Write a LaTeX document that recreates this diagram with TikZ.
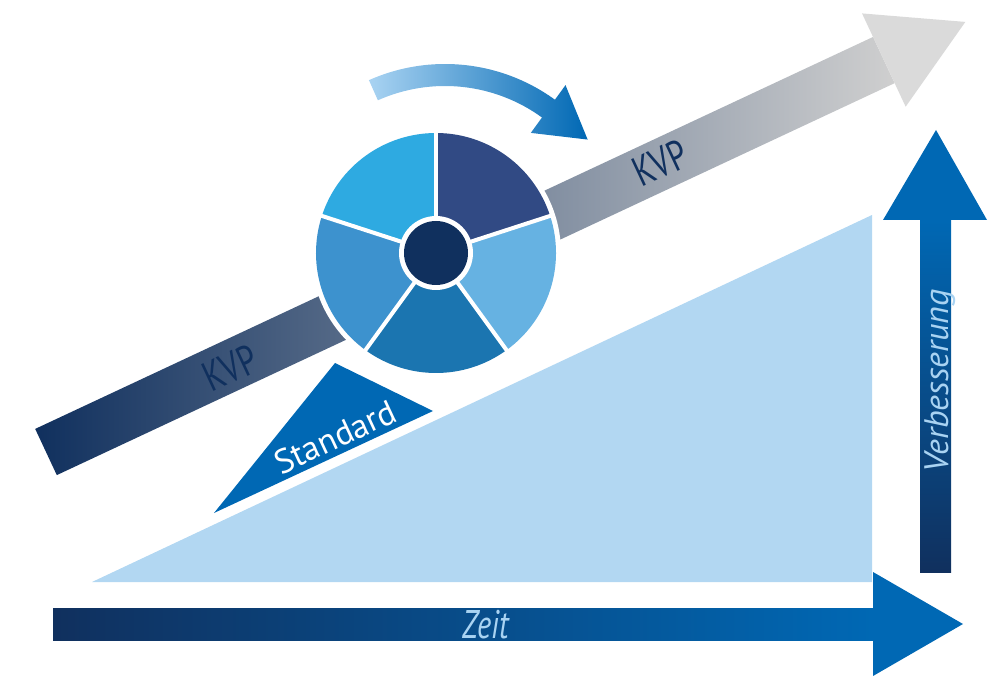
\documentclass[tikz,border=0pt]{standalone}
\usepackage{fontspec}
\setmainfont{PT Sans}
\newfontfamily\narrowfont[FakeStretch=0.76]{PT Sans}
\definecolor{navy}{HTML}{10305E}
\definecolor{midblue}{HTML}{0068B4}
\definecolor{paleblue}{HTML}{B2D7F2}
\definecolor{textblue}{HTML}{A9D3F2}
\definecolor{greyend}{HTML}{DADADA}
\definecolor{segA}{HTML}{2EAAE1}
\definecolor{segB}{HTML}{314A84}
\definecolor{segC}{HTML}{66B2E2}
\definecolor{segD}{HTML}{1B75B0}
\definecolor{segE}{HTML}{3D92CE}

\begin{document}
\begin{tikzpicture}
        [x=1pt,y=1pt,
         lbl/.style={text=textblue, inner sep=0pt, anchor=base},
         kvp/.style={font=\narrowfont\fontsize{42}{42}\selectfont, text=navy, inner sep=0pt, rotate=25}]
        \useasboundingbox (0,0) rectangle (995,675);

        % Zeit
        \shade[left color=navy, right color=midblue] (53,35) rectangle (873,67);
        \fill[midblue] (873,103) -- (963,51) -- (873,-1) -- cycle;
        \node[lbl, font=\narrowfont\fontsize{40}{40}\selectfont\itshape] (zeit) at (486,37) {Zeit};

        % Verbesserung
        \shade[bottom color=navy, top color=midblue] (920,103) rectangle (951,455);
        \fill[midblue] (883,455) -- (936,545) -- (987,455) -- cycle;
        \node[lbl, font=\fontsize{34}{34}\selectfont\itshape, rotate=90] (verb) at (948,294) {Verbesserung};

        % Dreiecke
        \fill[paleblue] (92,93) -- (872,93) -- (872,460) -- cycle;
        \fill[midblue] (214,162) -- (433,264) -- (335,312) -- cycle;
        \node[font=\fontsize{34}{34}\selectfont, text=white, inner sep=0pt, rotate=25] (std) at (335,238) {Standard};

        % KVP
        \begin{scope}[shift={(46,223)}, rotate=25.07]
          \shade[left color=navy, right color=greyend!95!black] (0,-25.5) rectangle (925,25.5);
          \fill[greyend] (925,-51.5) -- (1015,0) -- (925,51.5) -- cycle;
        \end{scope}
        \node[kvp] (kvpA) at (230,307) {KVP};
        \node[kvp] (kvpB) at (660,512) {KVP};

        % Rad
        \coordinate (pie) at (436,422);
        \fill[white] (pie) circle[radius=125];
        \foreach \a/\c in {90/segA,18/segB,-54/segC,-126/segD,162/segE}
        {\fill[\c] (pie) -- ++(\a:120) arc[start angle=\a, delta angle=72, radius=120] -- cycle;}
        \foreach \a in {18,90,162,234,306}
        {\draw[white, line width=4] (pie) -- ++(\a:121);}
        \fill[white] (pie) circle[radius=37];
        \fill[navy] (pie) circle[radius=32];

        % Pfeil oben
        \begin{scope}[shift={(445,424)}]
          \shade[left color=textblue, right color=midblue]
            (114:187) arc[start angle=114, end angle=54, radius=187] -- (54:205) -- (38:181)
            -- (54:146) -- (54:165) arc[start angle=54, end angle=114, radius=165] -- cycle;
        \end{scope}
      \end{tikzpicture}
\end{document}
